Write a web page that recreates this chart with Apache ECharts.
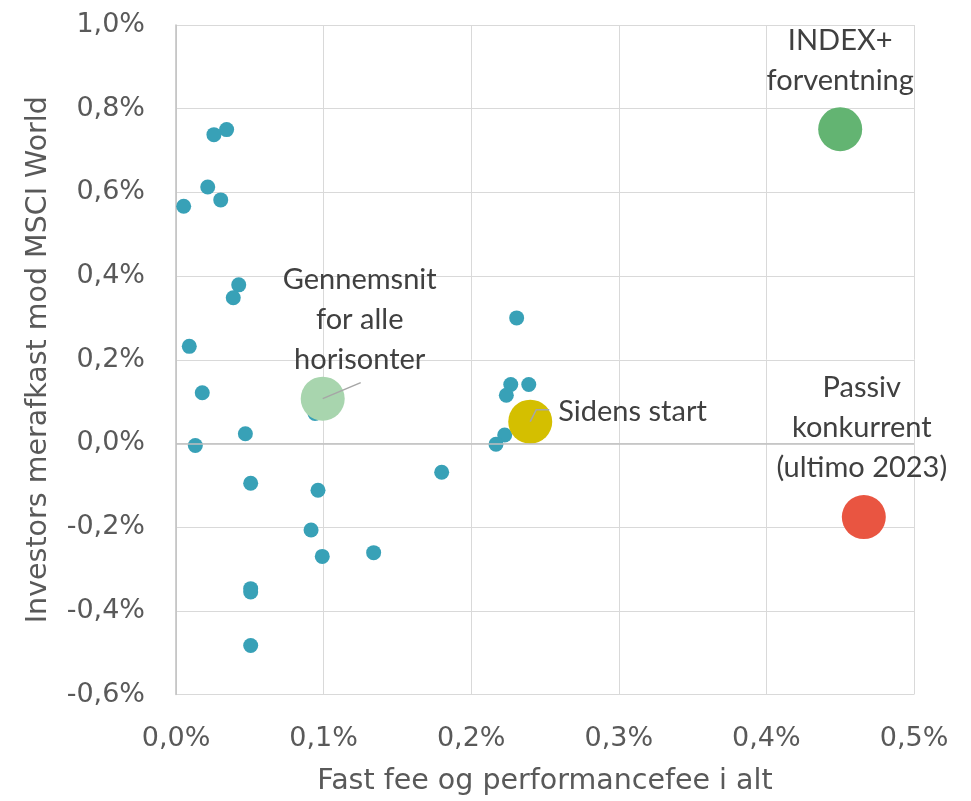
<!DOCTYPE html>
<html><head><meta charset="utf-8">
<script src="https://cdn.jsdelivr.net/npm/echarts@6/dist/echarts.min.js"></script>
<style>html,body{margin:0;padding:0;background:#fff}#c{width:971px;height:801px}</style>
</head><body><div id="c"></div>
<script>
// Fund points: [fee %, excess return %]
const fundFees = [0.0343,0.0257,0.0215,0.0303,0.0052,0.0425,0.0388,0.0090,0.0178,0.0470,0.0131,0.0942,0.0506,0.0962,0.0915,0.0991,0.1339,0.0506,0.0506,0.0506,0.1800,0.2308,0.2268,0.2390,0.2238,0.2227,0.2168];
const fundReturns = [0.750,0.738,0.613,0.582,0.567,0.379,0.348,0.232,0.121,0.023,-0.005,0.0715,-0.095,-0.112,-0.207,-0.270,-0.261,-0.347,-0.355,-0.483,-0.069,0.300,0.141,0.141,0.115,0.020,-0.002];
const avgPoint = [0.0994, 0.107];
const startPoint = [0.240, 0.052];
const indexPoint = [0.450, 0.751];
const passivPoint = [0.466, -0.176];
const labels = {
  avg: 'Gennemsnit\nfor alle\nhorisonter',
  start: 'Sidens start',
  index: 'INDEX+\nforventning',
  passiv: 'Passiv\nkonkurrent\n(ultimo 2023)'
};
const xTitle = 'Fast fee og performancefee i alt';
const yTitle = 'Investors merafkast mod MSCI World';

const axisFont = 'DejaVu Sans';
const labelFont = 'Lato';
const fmt = v => v.toFixed(1).replace('.', ',') + '%';
const chart = echarts.init(document.getElementById('c'));
const lblStyle = {show:true, fontFamily:labelFont, fontSize:29, lineHeight:40, color:'#404040'};
function center(r){return [r.x + r.width/2, r.y + r.height/2];}
const tickText = {fontFamily:axisFont, fontSize:27, color:'#595959'};
const nameText = {fontFamily:axisFont, fontSize:28.5, color:'#595959'};
chart.setOption({
  animation:false,
  grid:{left:176, right:57, top:25, bottom:105},
  xAxis:{type:'value', min:0, max:0.5, interval:0.1,
    axisLine:{show:false}, axisTick:{show:false},
    splitLine:{lineStyle:{color:'#d9d9d9', width:1}},
    axisLabel:Object.assign({formatter:fmt, margin:31}, tickText),
    name:xTitle, nameLocation:'middle', nameGap:87,
    nameTextStyle:Object.assign({verticalAlign:'middle'}, nameText)},
  yAxis:{type:'value', min:-0.6, max:1.0, interval:0.2,
    axisLine:{show:true, onZero:false, lineStyle:{color:'#bfbfbf', width:1.5}}, axisTick:{show:false},
    splitLine:{lineStyle:{color:'#d9d9d9', width:1}},
    axisLabel:Object.assign({formatter:fmt, margin:31}, tickText),
    name:yTitle, nameLocation:'middle', nameGap:137, nameRotate:90,
    nameTextStyle:Object.assign({verticalAlign:'middle'}, nameText)},
  series:[
    {type:'scatter', symbolSize:15, itemStyle:{color:'#38a1b7', opacity:1},
     data: fundFees.map((f,i)=>[f, fundReturns[i]]),
     markLine:{silent:true, symbol:'none', label:{show:false}, lineStyle:{color:'#bfbfbf', width:1.5, type:'solid'}, data:[{yAxis:0}]}},
    {type:'scatter', symbolSize:44, itemStyle:{color:'#a8d5ae', opacity:1}, data:[avgPoint], z:3,
     label:Object.assign({}, lblStyle, {formatter:labels.avg, align:'center'}),
     labelLayout:function(p){const c=center(p.rect);return {x:c[0]+37,y:c[1]-79,align:'center',verticalAlign:'middle'};}},
    {type:'scatter', symbolSize:44, itemStyle:{color:'#d4bf00', opacity:1}, data:[startPoint], z:3,
     label:Object.assign({}, lblStyle, {formatter:labels.start}),
     labelLayout:function(p){const c=center(p.rect);return {x:c[0]+28,y:c[1]-10,align:'left',verticalAlign:'middle'};}},
    {type:'scatter', symbolSize:44, itemStyle:{color:'#63b472', opacity:1}, data:[indexPoint], z:3,
     label:Object.assign({}, lblStyle, {formatter:labels.index, align:'center'}),
     labelLayout:function(p){const c=center(p.rect);return {x:c[0],y:c[1]-69,align:'center',verticalAlign:'middle'};}},
    {type:'scatter', symbolSize:44, itemStyle:{color:'#e95541', opacity:1}, data:[passivPoint], z:3,
     label:Object.assign({}, lblStyle, {formatter:labels.passiv, align:'center'}),
     labelLayout:function(p){const c=center(p.rect);return {x:c[0]-2,y:c[1]-89,align:'center',verticalAlign:'middle'};}}
  ]
});
// Leader lines anchored at the bubbles' pixel positions from the chart's own scales
const a = chart.convertToPixel({seriesIndex:1}, avgPoint);
const s = chart.convertToPixel({seriesIndex:2}, startPoint);
const leader = {stroke:'#a6a6a6', lineWidth:1.5, fill:null};
chart.setOption({graphic:[
  {type:'polyline', z:100, shape:{points:[[a[0],a[1]],[a[0]+38,a[1]-16]]}, style:leader, silent:true},
  {type:'polyline', z:100, shape:{points:[[s[0],s[1]],[s[0]+6,s[1]-12],[s[0]+19,s[1]-12]]}, style:leader, silent:true}
]});
</script></body></html>
